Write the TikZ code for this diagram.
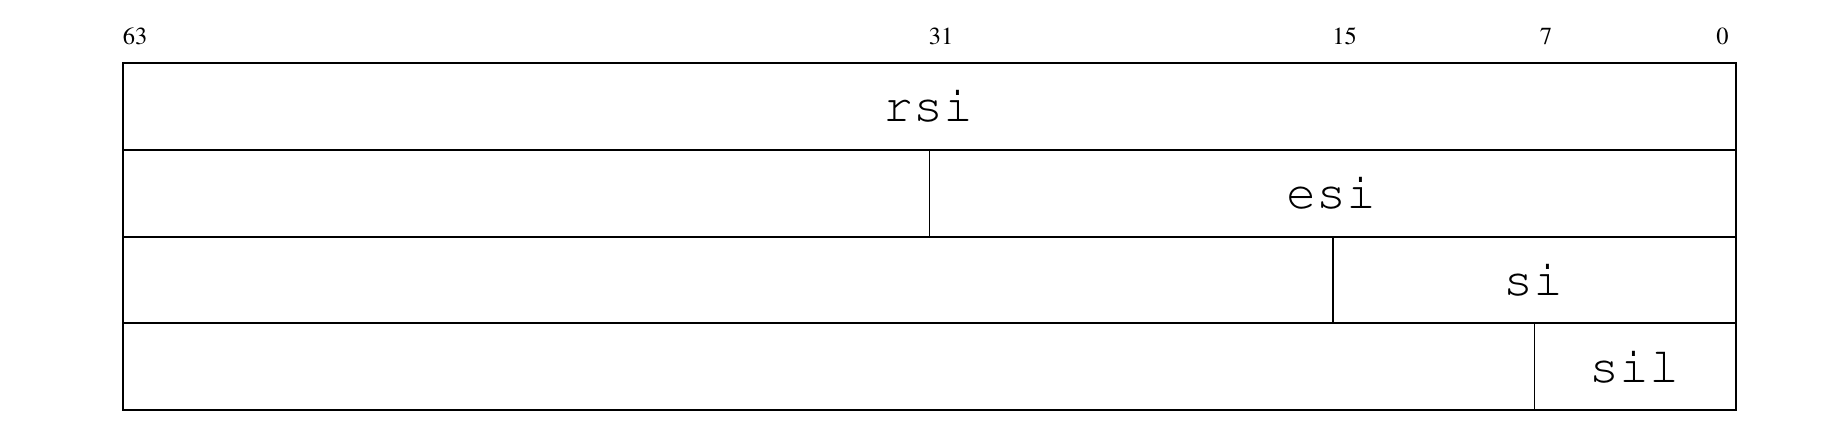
\documentclass[tikz,border=0pt]{standalone}
\usepackage[T1]{fontenc}
\newcommand\regfontfam{\fontfamily{pcr}\selectfont}
\newcommand\numfontfam{\fontfamily{ptm}\selectfont}
\begin{document}
\begin{tikzpicture}[x=1pt,y=-1pt,
  field/.style={draw, line width=1.9pt, inner sep=0pt, anchor=north west, minimum height=86.7pt},
  reg/.style={font=\regfontfam\fontsize{50}{54}\selectfont, anchor=base, inner sep=0pt},
  bitnum/.style={font=\numfontfam\fontsize{24.5}{27}\selectfont, anchor=base, inner sep=0pt}]
\useasboundingbox (0,0) rectangle (1840,444);
% bit numbers
\node[bitnum] (b63) at (135,45) {63};
\node[bitnum] (b31) at (941,45) {31};
\node[bitnum] (b15) at (1344.5,45) {15};
\node[bitnum] (b7) at (1546,45) {7};
\node[bitnum] (b0) at (1722.5,45) {0};
% row 1
\node[field, minimum width=1613pt] (rsi) at (122,62.3) {};
\node[reg] (rsiL) at (928.5,121.7) {rsi};
% row 2
\node[field, minimum width=806.5pt] (esiH) at (122,149) {};
\node[field, minimum width=806.5pt] (esi) at (928.5,149) {};
\node[reg] (esiL) at (1331.75,208.4) {esi};
% row 3
\node[field, minimum width=1210pt] (siH) at (122,235.7) {};
\node[field, minimum width=403pt] (si) at (1332,235.7) {};
\node[reg] (siL) at (1533.5,295.5) {si};
% row 4
\node[field, minimum width=1411.5pt] (silH) at (122,322.4) {};
\node[field, minimum width=201.5pt] (sil) at (1533.5,322.4) {};
\node[reg] (silL) at (1634.25,382.5) {sil};
\end{tikzpicture}
\end{document}
